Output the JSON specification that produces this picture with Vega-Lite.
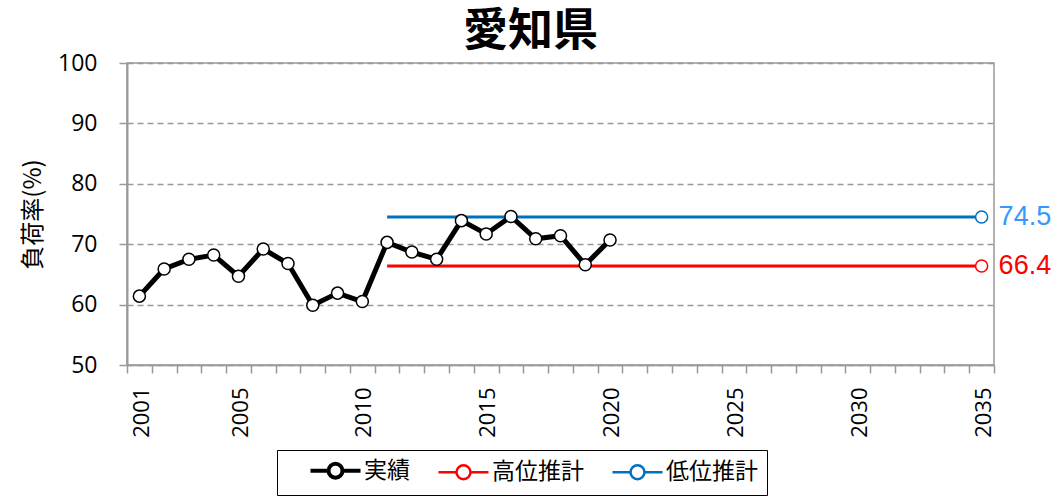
{
  "$schema": "https://vega.github.io/schema/vega-lite/v6.json",
  "autosize": "none",
  "width": 867,
  "height": 302,
  "padding": {"left": 127, "top": 63, "right": 70, "bottom": 131},
  "background": "white",
  "title": {"text": "愛知県", "fontSize": 45, "fontWeight": "bold", "font": "Noto Sans CJK JP", "color": "black", "anchor": "middle", "dx": -30, "offset": -3},
  "config": {
    "view": {"stroke": "#999999", "strokeWidth": 1.5},
    "axis": {"labelColor": "black", "titleColor": "black"},
    "legend": {"orient": "none"}
  },
  "data": {"values": [
    {"series": "実績", "year": 2001, "value": 61.4},
    {"series": "実績", "year": 2002, "value": 65.9},
    {"series": "実績", "year": 2003, "value": 67.5},
    {"series": "実績", "year": 2004, "value": 68.2},
    {"series": "実績", "year": 2005, "value": 64.7},
    {"series": "実績", "year": 2006, "value": 69.2},
    {"series": "実績", "year": 2007, "value": 66.8},
    {"series": "実績", "year": 2008, "value": 59.9},
    {"series": "実績", "year": 2009, "value": 61.9},
    {"series": "実績", "year": 2010, "value": 60.5},
    {"series": "実績", "year": 2011, "value": 70.3},
    {"series": "実績", "year": 2012, "value": 68.7},
    {"series": "実績", "year": 2013, "value": 67.5},
    {"series": "実績", "year": 2014, "value": 73.9},
    {"series": "実績", "year": 2015, "value": 71.7},
    {"series": "実績", "year": 2016, "value": 74.6},
    {"series": "実績", "year": 2017, "value": 70.9},
    {"series": "実績", "year": 2018, "value": 71.4},
    {"series": "実績", "year": 2019, "value": 66.6},
    {"series": "実績", "year": 2020, "value": 70.7},
    {"series": "高位推計", "year": 2011, "value": 66.4},
    {"series": "高位推計", "year": 2035, "value": 66.4},
    {"series": "低位推計", "year": 2011, "value": 74.5},
    {"series": "低位推計", "year": 2035, "value": 74.5}
  ]},
  "encoding": {
    "x": {"field": "year", "type": "quantitative",
      "scale": {"domain": [2000.5, 2035.5], "nice": false, "zero": false},
      "axis": {
        "title": null, "grid": false,
        "values": [2000.5,2001.5,2002.5,2003.5,2004.5,2005.5,2006.5,2007.5,2008.5,2009.5,2010.5,2011.5,2012.5,2013.5,2014.5,2015.5,2016.5,2017.5,2018.5,2019.5,2020.5,2021.5,2022.5,2023.5,2024.5,2025.5,2026.5,2027.5,2028.5,2029.5,2030.5,2031.5,2032.5,2033.5,2034.5,2035.5],
        "labelExpr": "(datum.value == 2000.5 || ((datum.value + 0.5) % 5 == 0 && datum.value < 2035.5)) ? '' + (datum.value + 0.5) : ''",
        "labelOffset": 14,
        "labelAngle": -90, "labelAlign": "right", "labelBaseline": "middle",
        "labelFontSize": 22, "labelFont": "Open Sans", "labelPadding": 14,
        "labelOverlap": false, "labelBound": false, "labelFlush": false,
        "domainColor": "#999999", "domainWidth": 1.5,
        "tickColor": "#999999", "tickWidth": 1.5, "tickSize": 8
      }
    },
    "y": {"field": "value", "type": "quantitative",
      "scale": {"domain": [50, 100], "nice": false, "zero": false},
      "axis": {
        "title": "負荷率(%)", "titleFont": "Noto Sans CJK JP", "titleFontSize": 24, "titleFontWeight": "normal", "titlePadding": 12,
        "values": [50, 60, 70, 80, 90, 100],
        "labelFontSize": 23, "labelFont": "Open Sans", "labelPadding": 22,
        "grid": true, "gridColor": "#999999", "gridDash": [6, 4], "gridWidth": 1.5,
        "domainColor": "#999999", "domainWidth": 2,
        "tickColor": "#999999", "tickWidth": 1.5, "tickSize": 8
      }
    }
  },
  "layer": [
    {
      "transform": [{"filter": "datum.series == '実績'"}],
      "mark": {"type": "line", "strokeWidth": 5},
      "encoding": {
        "color": {"field": "series", "type": "nominal",
          "scale": {"domain": ["実績", "高位推計", "低位推計"], "range": ["#000000", "#FF0000", "#0070C0"]},
          "legend": {
            "title": null, "direction": "horizontal", "legendX": 150, "legendY": 387,
            "symbolType": "M-1,0H-0.28M0.28,0H1M0.28,0A0.28,0.28 0 1,0 -0.28,0A0.28,0.28 0 1,0 0.28,0Z",
            "symbolSize": 2500, "symbolStrokeWidth": 3, "symbolFillColor": "white",
            "symbolOffset": 38,
            "labelFontSize": 23, "labelFont": "Noto Sans CJK JP", "labelColor": "black", "labelOffset": 17,
            "columnPadding": 4, "padding": 9, "strokeColor": "black", "fillColor": "white",
            "encode": {"symbols": {"update": {"fill": {"value": "white"}, "strokeWidth": {"signal": "datum.value === '実績' ? 4 : 2.5"}}}}
          }
        }
      }
    },
    {
      "transform": [{"filter": "datum.series != '実績'"}],
      "mark": {"type": "line", "strokeWidth": 3},
      "encoding": {
        "color": {"field": "series", "type": "nominal"},
        "detail": {"field": "series"}
      }
    },
    {
      "transform": [{"filter": "datum.series == '実績' || datum.year == 2035"}],
      "mark": {"type": "point", "shape": "circle", "filled": false, "fill": "white", "fillOpacity": 1, "opacity": 1, "size": 145, "strokeWidth": 1.5},
      "encoding": {
        "stroke": {"field": "series", "type": "nominal", "scale": {"domain": ["実績", "高位推計", "低位推計"], "range": ["#000000", "#FF0000", "#0070C0"]}, "legend": null}
      }
    },
    {
      "transform": [{"filter": "datum.series != '実績' && datum.year == 2035"}],
      "mark": {"type": "text", "align": "left", "baseline": "middle", "dx": 17, "fontSize": 27, "font": "Liberation Sans"},
      "encoding": {
        "text": {"field": "value", "type": "quantitative", "format": ".1f"},
        "color": {"condition": {"test": "datum.series == '低位推計'", "value": "#3399FF"}, "value": "#FF0000"}
      }
    }
  ]
}
